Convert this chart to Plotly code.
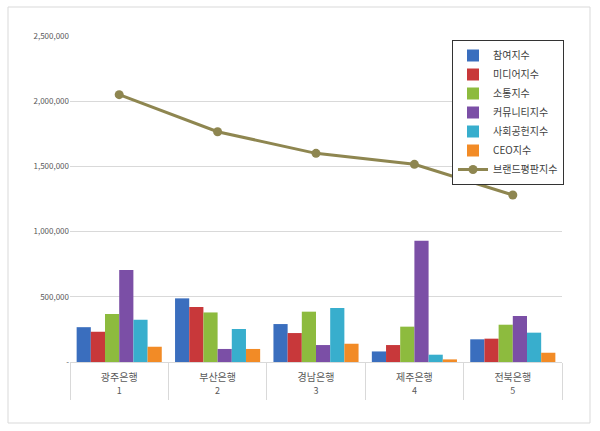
import plotly.graph_objects as go

banks = ["광주은행", "부산은행", "경남은행", "제주은행", "전북은행"]
ranks = ["1", "2", "3", "4", "5"]

series_names = ["참여지수", "미디어지수", "소통지수", "커뮤니티지수", "사회공헌지수", "CEO지수"]
participation = [267000, 488000, 291000, 81000, 174000]
media = [232000, 422000, 222000, 130000, 179000]
communication = [368000, 380000, 386000, 271000, 286000]
community = [705000, 100000, 130000, 930000, 353000]
social = [324000, 253000, 414000, 56000, 225000]
ceo = [117000, 100000, 140000, 20000, 71000]
brand = [2050000, 1766000, 1600000, 1516000, 1281000]
line_name = "브랜드평판지수"

y_tickvals = [0, 500000, 1000000, 1500000, 2000000, 2500000]
y_ticktext = ["-", "500,000", "1,000,000", "1,500,000", "2,000,000", "2,500,000"]

bar_colors = ["#3A6EBE", "#C8383A", "#8DBB3E", "#7B4FA6", "#38AECD", "#F28B26"]
line_color = "#8E8650"

fig = go.Figure()
for name, vals, col in zip(series_names,
                           [participation, media, communication, community, social, ceo],
                           bar_colors):
    fig.add_trace(go.Bar(x=banks, y=vals, name=name, marker=dict(color=col, line=dict(width=0))))

fig.add_trace(go.Scatter(x=banks, y=brand, name=line_name, mode="lines+markers",
                         line=dict(color=line_color, width=3),
                         marker=dict(color=line_color, size=9)))

# invisible helper trace so the second (rank number) category axis is drawn
fig.add_trace(go.Scatter(x=ranks, y=brand, xaxis="x2", mode="markers",
                         marker=dict(opacity=0), showlegend=False, hoverinfo="skip"))

W, H = 600, 431
L, R, T, B = 70, 38, 36, 69
pw, ph = W - L - R, H - T - B

fig.update_layout(
    width=W, height=H,
    margin=dict(l=L, r=R, t=T, b=B, autoexpand=False),
    paper_bgcolor="white", plot_bgcolor="white",
    font=dict(family="Noto Sans CJK KR, sans-serif", size=9, color="#595959"),
    barmode="group", bargap=0.135, bargroupgap=0,
    showlegend=True,
    legend=dict(x=(452 - L) / pw, y=(H - B - 40) / ph, xanchor="left", yanchor="top",
                bgcolor="white", bordercolor="#333333", borderwidth=1,
                font=dict(size=10, color="#404040"), tracegroupgap=0,
                itemwidth=30),
    xaxis=dict(type="category", showgrid=False, showline=True, linecolor="#D9D9D9",
               linewidth=1, ticks="outside", tickson="boundaries", ticklen=37,
               tickcolor="#D9D9D9", tickwidth=1,
               tickfont=dict(size=10, color="#595959"),
               ticklabelstandoff=6, automargin=False),
    xaxis2=dict(overlaying="x", anchor="y", side="bottom", type="category",
                range=[-0.5, len(ranks) - 0.5],
                showgrid=False, showline=False, zeroline=False,
                ticks="", tickfont=dict(size=9, color="#595959"),
                ticklabelstandoff=22, automargin=False),
    yaxis=dict(range=[0, 2500000], tickvals=y_tickvals, ticktext=y_ticktext,
               showgrid=True, gridcolor="#D9D9D9", gridwidth=1, zeroline=False,
               showline=False, ticks="", tickfont=dict(size=8, color="#595959"),
               automargin=False),
    shapes=[dict(type="rect", xref="paper", yref="paper",
                 x0=(8 - L) / pw, x1=(590 - L) / pw,
                 y0=(H - B - 423) / ph, y1=(H - B - 7) / ph,
                 line=dict(color="#D9D9D9", width=1), fillcolor="rgba(0,0,0,0)",
                 layer="below")],
)

fig.write_html("out.html")
